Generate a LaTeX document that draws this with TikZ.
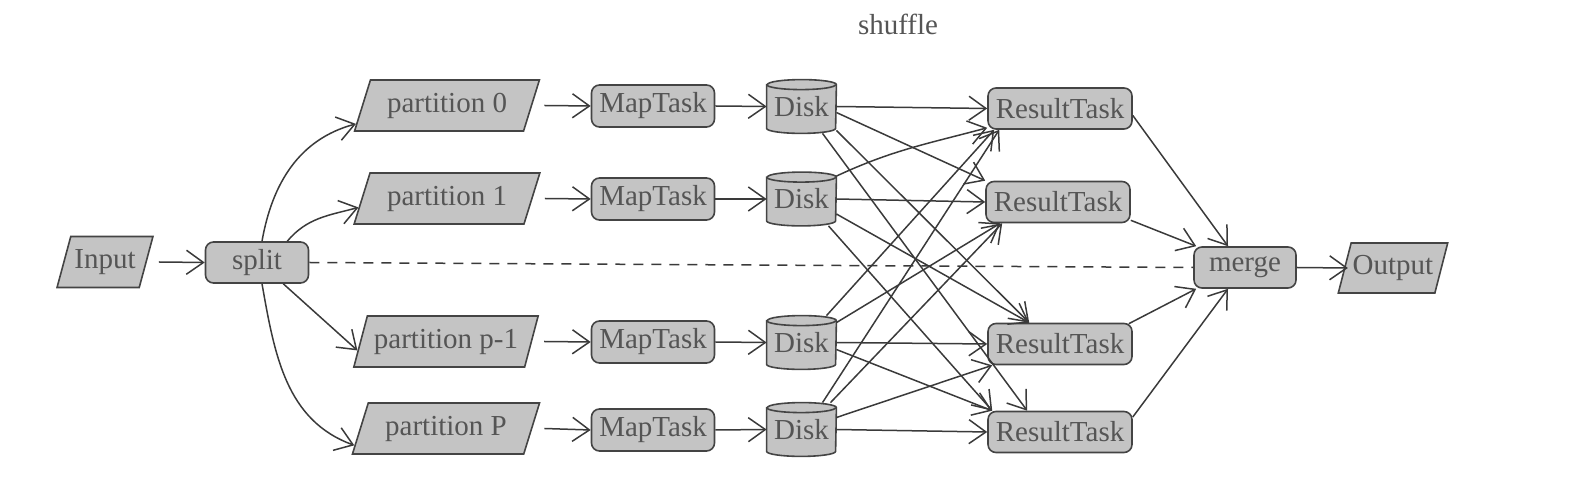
\documentclass[tikz,border=0pt]{standalone}
\usepackage{fontspec}
\setmainfont{Liberation Serif}
\usetikzlibrary{shapes.geometric,arrows.meta,backgrounds,calc}
\definecolor{boxfill}{HTML}{C4C4C4}
\definecolor{boxline}{HTML}{444444}
\definecolor{txt}{HTML}{555555}
\definecolor{edgec}{HTML}{3A3A3A}
\tikzset{
  lbl/.style={font=\fontsize{14.5}{16}\selectfont, text=txt},
  rbox/.style={lbl, draw=boxline, fill=boxfill, rounded corners=4pt, line width=0.8pt, inner sep=0pt, minimum height=20.5pt},
  para/.style={lbl, draw=boxline, fill=boxfill, trapezium, trapezium left angle=64, trapezium right angle=116, trapezium stretches=true, line width=0.8pt, inner sep=0pt, minimum height=25.5pt},
  diskbox/.style={lbl, inner sep=0pt, minimum width=34.5pt, minimum height=26.5pt},
  diskshape/.style={draw=boxline, fill=boxfill, line width=0.8pt},
  arr/.style={draw=edgec, line width=0.75pt, -{Straight Barb[length=8.5pt,width=12pt,line width=0.75pt]}},
  dash line/.style={draw=edgec, line width=0.75pt, dash pattern=on 5pt off 4pt},
}
\begin{document}
\begin{tikzpicture}[x=0.5pt,y=-0.5pt]
\useasboundingbox (0,0) rectangle (1572,490);

\node[lbl] (shuffle) at (898,24) {shuffle};

\node[para, minimum width=48pt] (in) at (105,262) {Input};
\node[rbox, minimum width=51.5pt] (split) at (257,262.5) {split};

\node[para, minimum width=92.5pt] (p0) at (447,105.5) {partition 0};
\node[para, minimum width=93pt] (p1) at (447,198.5) {partition 1};
\node[para, minimum width=92.5pt] (p2) at (446,341.5) {partition p-1};
\node[para, minimum width=94pt] (p3) at (446,428.5) {partition P};

\node[rbox, minimum width=61.5pt, minimum height=21pt] (m0) at (653,106) {MapTask};
\node[rbox, minimum width=61.5pt, minimum height=21pt] (m1) at (653,199) {MapTask};
\node[rbox, minimum width=61.5pt, minimum height=21pt] (m2) at (653,342) {MapTask};
\node[rbox, minimum width=61.5pt, minimum height=21pt] (m3) at (653,430) {MapTask};

\node[diskbox] (d0) at (801.5,106.5) {Disk};
\node[diskbox] (d1) at (801.5,199) {Disk};
\node[diskbox] (d2) at (801.5,342.5) {Disk};
\node[diskbox] (d3) at (801.5,429.5) {Disk};

\node[rbox, minimum width=72pt] (r0) at (1060,108.5) {ResultTask};
\node[rbox, minimum width=72pt] (r1) at (1058,202) {ResultTask};
\node[rbox, minimum width=72pt] (r2) at (1060,344) {ResultTask};
\node[rbox, minimum width=72pt] (r3) at (1060,432) {ResultTask};

\node[rbox, minimum width=51pt] (merge) at (1245,267.5) {merge};
\node[para, minimum width=55pt, minimum height=25pt] (out) at (1393,268) {Output};

\begin{scope}[on background layer]
\foreach \d in {d0,d1,d2,d3}{
  \path[diskshape] ($(\d.north west)+(0,5)$) -- ($(\d.south west)+(0,-5)$)
     arc[start angle=180,end angle=360,x radius=17.25pt,y radius=2.5pt]
     -- ($(\d.north east)+(0,5)$)
     arc[start angle=0,end angle=180,x radius=17.25pt,y radius=2.5pt] -- cycle;
  \draw[draw=boxline, line width=0.8pt] ($(\d.north west)+(0,5)$)
     arc[start angle=180,end angle=360,x radius=17.25pt,y radius=2.5pt];
}
\end{scope}

% input and split
\draw[arr] ([xshift=6pt]in.east) -- (split.west);
\draw[arr] ([xshift=2.5pt]split.north) to[out=80,in=195] ($(p0.bottom left corner)!0.15!(p0.top left corner)$);
\draw[arr] ([xshift=-11pt]split.north east) to[out=50,in=195] ($(p1.bottom left corner)!0.33!(p1.top left corner)$);
\draw[arr] ([xshift=-13pt]split.south east) -- ($(p2.bottom left corner)!0.33!(p2.top left corner)$);
\draw[arr] ([xshift=2.5pt]split.south) to[out=-80,in=160] ($(p3.bottom left corner)!0.18!(p3.top left corner)$);
\draw[dash line] (split.east) -- (merge.west);

% partitions to map tasks to disks
\foreach \i in {0,1,2,3}{
  \draw[arr] ([xshift=6pt]p\i.east) -- (m\i.west);
  \draw[arr] (m\i.east) -- (d\i.west);
}

% shuffle
\draw[arr] (d0.east) -- (r0.west);
\draw[arr] ($(d0.east)+(0,6)$) -- (r1.north west);
\draw[arr] ($(d0.south east)+(0,-3)$) -- ($(r2.north west)+(42,0)$);
\draw[arr] ($(d0.south)+(21,0)$) -- ($(r3.north west)+(40,0)$);

\draw[arr] ($(d1.north east)+(0,4)$) to[out=25,in=195] ($(r0.south west)+(0,-2)$);
\draw[arr] (d1.east) -- (r1.west);
\draw[arr] ($(d1.east)+(0,15)$) -- ($(r2.north west)+(42,0)$);
\draw[arr] ($(d1.south)+(27,0)$) -- ($(r3.north west)+(5,0)$);

\draw[arr] ($(d2.north)+(25,0)$) -- ($(r0.south west)+(7,0)$);
\draw[arr] ($(d2.north east)+(0,7)$) -- ($(r1.south west)+(15,0)$);
\draw[arr] (d2.east) -- (r2.west);
\draw[arr] ($(d2.east)+(0,7)$) -- ($(r3.north west)+(5,0)$);

\draw[arr] ($(d3.north)+(21,0)$) -- ($(r0.south west)+(12,0)$);
\draw[arr] ($(d3.north)+(29,0)$) -- ($(r1.south west)+(17,0)$);
\draw[arr] ($(d3.east)+(0,-12)$) -- ($(r2.south west)+(5,0)$);
\draw[arr] (d3.east) -- (r3.west);

% merge
\draw[arr] ($(r0.east)+(0,7)$) -- ($(merge.north)+(-17,0)$);
\draw[arr] ($(r1.south east)+(0,-3)$) -- ($(merge.north west)+(3,0)$);
\draw[arr] ($(r2.north east)+(-4,1)$) -- ($(merge.south west)+(3,0)$);
\draw[arr] ($(r3.east)+(0,-15)$) -- ($(merge.south)+(-17,0)$);
\draw[arr] (merge.east) -- ([xshift=2pt]out.west);
\end{tikzpicture}
\end{document}
